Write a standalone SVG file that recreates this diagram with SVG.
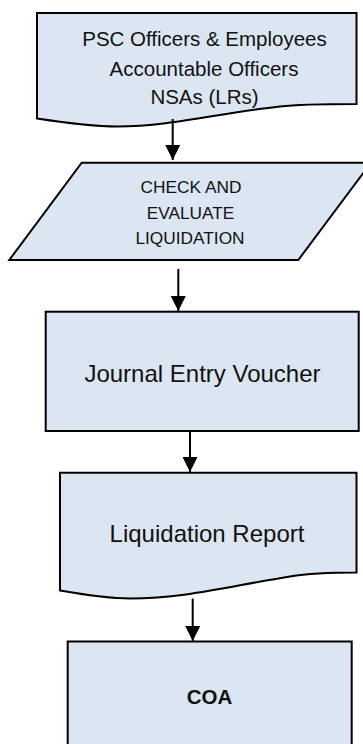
<svg xmlns="http://www.w3.org/2000/svg" width="363" height="744" viewBox="0 0 363 744">
  <style>
    .shape { fill: #DCE6F2; stroke: #000; stroke-width: 2; stroke-linejoin: miter; }
    .label { font-family: "Liberation Sans", Arial, sans-serif; fill: #111; text-anchor: middle; }
    .flow { stroke: #000; stroke-width: 2; fill: none; marker-end: url(#arrow); }
  </style>
  <defs>
    <marker id="arrow" markerUnits="userSpaceOnUse" markerWidth="15" markerHeight="15" refX="15" refY="7.5" orient="auto">
      <path d="M0,0 L15,7.5 L0,15 z" fill="#000"/>
    </marker>
  </defs>
  <rect width="363" height="744" fill="#fff"/>

  <!-- source documents -->
  <g id="node-sources">
    <path class="shape" d="M37,13 H356.5 V104 C 330,104 300,104 280,106.5 C 220,113 170,126.5 117,126.5 C 90,126.5 60,122 37,118.5 Z"/>
    <text class="label" font-size="20.5" x="204.5" y="45.5">PSC Officers &amp; Employees</text>
    <text class="label" font-size="20.5" x="204" y="75.5">Accountable Officers</text>
    <text class="label" font-size="20.5" x="204.5" y="104">NSAs (LRs)</text>
  </g>

  <!-- review step -->
  <g id="node-check">
    <path class="shape" d="M81.7,162.7 H371 L298.3,260 H9.3 Z"/>
    <text class="label" font-size="17.3" x="191" y="193.3">CHECK AND</text>
    <text class="label" font-size="17.3" x="190.5" y="219">EVALUATE</text>
    <text class="label" font-size="17.3" x="190" y="244.3">LIQUIDATION</text>
  </g>

  <!-- journal entry -->
  <g id="node-jev">
    <rect class="shape" x="45.7" y="311.7" width="313" height="119.3"/>
    <text class="label" font-size="24" x="202.5" y="381.7">Journal Entry Voucher</text>
  </g>

  <!-- report document -->
  <g id="node-report">
    <path class="shape" d="M60,472.7 H356.5 V572.5 C 330,572.5 305,574 290,576.5 C 230,586 185,598.5 130,598.5 C 105,598.5 80,594 60,590.5 Z"/>
    <text class="label" font-size="24" x="207" y="541.7">Liquidation Report</text>
  </g>

  <!-- recipient -->
  <g id="node-coa">
    <rect class="shape" x="67.7" y="641.5" width="284" height="106"/>
    <text class="label" font-size="20.5" font-weight="bold" x="209.5" y="704.3">COA</text>
  </g>

  <g id="connectors">
    <line class="flow" x1="172.7" y1="119" x2="172.7" y2="160"/>
    <line class="flow" x1="178.3" y1="269" x2="178.3" y2="311"/>
    <line class="flow" x1="190" y1="431" x2="190" y2="472"/>
    <line class="flow" x1="192.7" y1="598.5" x2="192.7" y2="641"/>
  </g>
</svg>
